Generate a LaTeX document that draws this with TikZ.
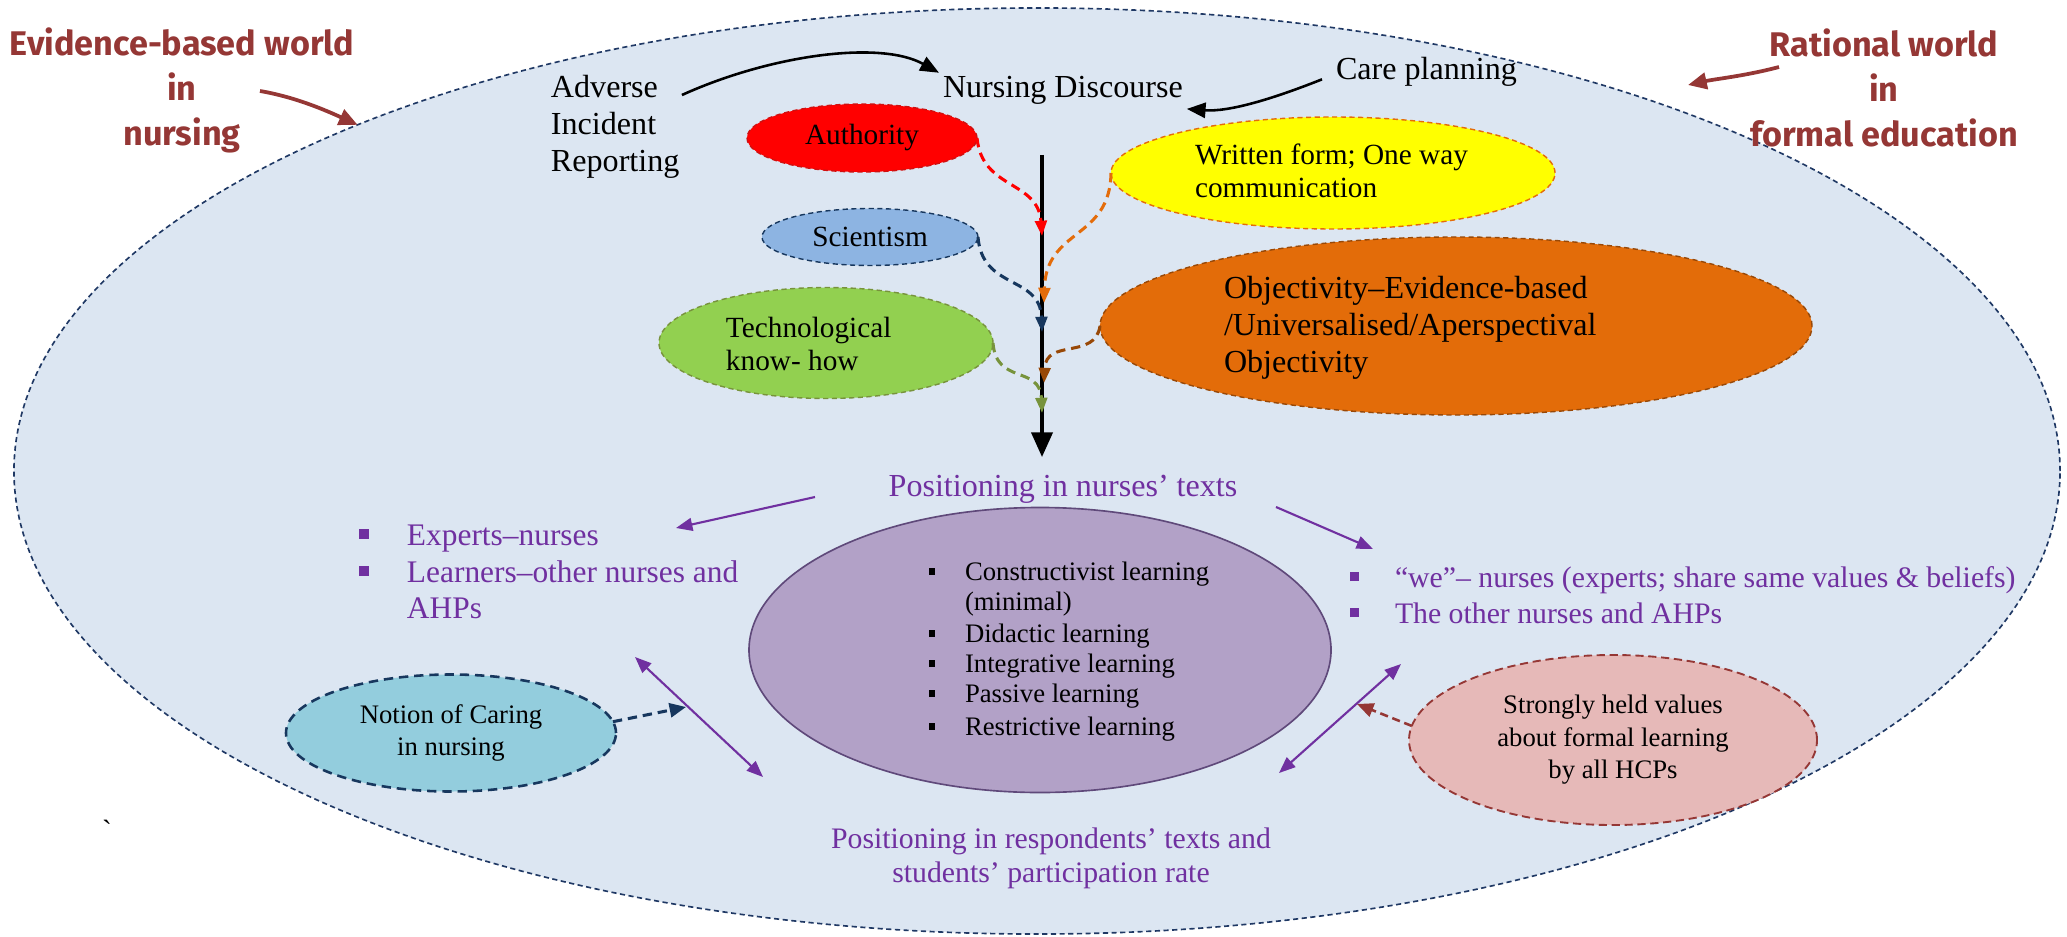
\documentclass[tikz,border=0pt]{standalone}
\usepackage{fontspec}
\setmainfont{Liberation Serif}
\newfontfamily\labelfont{Fira Sans}
\usetikzlibrary{shapes.geometric,arrows.meta}
\definecolor{cBg}{HTML}{DCE6F2}
\definecolor{cNavy}{HTML}{1F3864}
\definecolor{cMaroon}{HTML}{953735}
\definecolor{cViolet}{HTML}{7030A0}
\definecolor{cAuthF}{HTML}{FF0000}
\definecolor{cAuthL}{HTML}{D01010}
\definecolor{cRed}{HTML}{FF0000}
\definecolor{cSciF}{HTML}{8DB4E2}
\definecolor{cSciL}{HTML}{17375E}
\definecolor{cTechF}{HTML}{92D050}
\definecolor{cTechL}{HTML}{77933C}
\definecolor{cYelF}{HTML}{FFFF00}
\definecolor{cYelL}{HTML}{E46C0A}
\definecolor{cObjF}{HTML}{E36C09}
\definecolor{cObjL}{HTML}{984807}
\definecolor{cPurF}{HTML}{B2A1C7}
\definecolor{cPurL}{HTML}{5F497A}
\definecolor{cNotF}{HTML}{93CDDD}
\definecolor{cStrF}{HTML}{E6B9B8}
\newcommand\szL{\fontsize{13.7pt}{16pt}\selectfont}
\newcommand\szM{\fontsize{12.5pt}{15pt}\selectfont}
\newcommand\szS{\fontsize{11.4pt}{13.4pt}\selectfont}
\newcommand\szP{\fontsize{13.4pt}{16pt}\selectfont}
\newcommand\szQ{\fontsize{12.7pt}{15pt}\selectfont}
\newcommand\sqb[2]{\llap{\rule[0.2em]{#1}{#1}\hspace{#2}}}
\begin{document}
\begin{tikzpicture}[x=0.015cm,y=-0.015cm,
  ellbox/.style={ellipse, inner sep=0pt, outer sep=0pt},
  shortdash/.style={dash pattern=on 2.2pt off 1.5pt},
  txtw/.style={anchor=base west, inner sep=1.5pt},
  txtc/.style={anchor=base, inner sep=1.5pt},
  feedarrow/.style={line width=1.3pt, dash pattern=on 4pt off 2.5pt, -{Triangle[length=6.5pt,width=5pt]}},
  parr/.style={cViolet, line width=0.9pt, -{Triangle[length=7pt,width=5.5pt]}},
  dparr/.style={cViolet, line width=0.9pt, {Triangle[length=7pt,width=5.5pt]}-{Triangle[length=7pt,width=5.5pt]}},
  labarr/.style={cMaroon, line width=1.6pt, -{Triangle[length=8pt,width=7pt]}},
  blkarr/.style={black, line width=1.1pt, -{Triangle[length=8pt,width=6.5pt]}},
  worldlabel/.style={cMaroon, font=\labelfont\bfseries\fontsize{14.6pt}{19.2pt}\selectfont, align=center}
]
\useasboundingbox (0,0) rectangle (2067,937);
\fill[white] (0,0) rectangle (2067,937);

% outer world
\node[ellbox, fill=cBg, draw=cNavy, line width=0.7pt, shortdash,
      minimum width=30.69cm, minimum height=13.89cm] (world) at (1037,471) {};

% world labels
\node[worldlabel] (evid) at (182,90) {Evidence-based world\\in\\nursing};
\node[worldlabel] (ratio) at (1884,88) {Rational world\\in\\formal education};
\coordinate (evS) at (260,91);
\coordinate (raS) at (1779,67);
\coordinate (raE) at (1688,85);
\draw[labarr] (evS) .. controls (295,97) and (325,110) .. (world.153);
\draw[labarr] (raS) .. controls (1745,76) and (1715,79) .. (raE);

% top texts
\node[txtw, font=\szL] (adv1) at (547,98) {Adverse};
\node[txtw, font=\szL] (adv2) at (547,135) {Incident};
\node[txtw, font=\szL] (adv3) at (547,172) {Reporting};
\node[txtw, font=\szL] (nd) at (939,98) {Nursing Discourse};
\node[txtw, font=\szL] (care) at (1332,80) {Care planning};
\draw[blkarr] ([shift={(20,8)}]adv1.east) .. controls (770,55) and (880,40) .. (nd.north west);
\draw[blkarr] ([shift={(-10,7)}]care.west) .. controls (1270,100) and (1228,112) .. (nd.south east);

% feeding ellipses
\node[ellbox, fill=cAuthF, draw=cAuthL, line width=0.6pt, shortdash,
      minimum width=3.45cm, minimum height=1.02cm, font=\szM] (auth) at (862,138) {Authority};
\node[ellbox, fill=cSciF, draw=cSciL, line width=0.6pt, shortdash,
      minimum width=3.24cm, minimum height=0.855cm, font=\szM] (sci) at (870,237) {Scientism};
\node[ellbox, fill=cTechF, draw=cTechL, line width=0.6pt, shortdash,
      minimum width=5.01cm, minimum height=1.665cm] (tech) at (826,343) {};
\node[txtw, font=\szM] (tech1) at (722,337) {Technological};
\node[txtw, font=\szM] (tech2) at (722,370) {know- how};
\node[ellbox, fill=cYelF, draw=cYelL, line width=0.6pt, shortdash,
      minimum width=6.66cm, minimum height=1.68cm] (yel) at (1333,173) {};
\node[txtw, font=\szM] (yel1) at (1191,165) {Written form; One way};
\node[txtw, font=\szM] (yel2) at (1191,198) {communication};
\node[ellbox, fill=cObjF, draw=cObjL, line width=0.6pt, shortdash,
      minimum width=10.68cm, minimum height=2.67cm] (obj) at (1456,326) {};
\node[txtw, font=\szL] (obj1) at (1220,298) {Objectivity–Evidence-based};
\node[txtw, font=\szL] (obj2) at (1220,335) {/Universalised/Aperspectival};
\node[txtw, font=\szL] (obj3) at (1220,372) {Objectivity};

% central vertical arrow
\coordinate (vtop) at (1042,155);
\coordinate (vbot) at (1042,457);
\draw[line width=1.5pt, -{Triangle[length=10.5pt,width=9pt]}] (vtop) -- (vbot);
\coordinate (tA) at (1042,236);
\coordinate (tY) at (1044,303);
\coordinate (tS) at (1042,332);
\coordinate (tO) at (1044,383);
\coordinate (tT) at (1042,413);
\draw[feedarrow, cRed] (auth.east) .. controls (982,190) and (1038,180) .. (tA);
\draw[feedarrow, cYelL] (yel.west) .. controls (1110,240) and (1046,228) .. (tY);
\draw[feedarrow, cSciL] (sci.east) .. controls (982,290) and (1040,275) .. (tS);
\draw[feedarrow, cObjL] (obj.west) .. controls (1095,360) and (1046,338) .. (tO);
\draw[feedarrow, cTechL] (tech.east) .. controls (996,385) and (1040,365) .. (tT);

% positioning in nurses' texts
\node[txtc, font=\szL, cViolet] (pnt) at (1063,496) {Positioning in nurses’ texts};

% purple ellipse
\node[ellbox, fill=cPurF, draw=cPurL, line width=0.7pt,
      minimum width=8.73cm, minimum height=4.275cm] (learn) at (1040,650) {};
\node[txtw, font=\szS] (l1) at (961,580) {\sqb{0.24em}{1.12em}Constructivist learning};
\node[txtw, font=\szS] (l2) at (961,610) {(minimal)};
\node[txtw, font=\szS] (l3) at (961,642) {\sqb{0.24em}{1.12em}Didactic learning};
\node[txtw, font=\szS] (l4) at (961,672) {\sqb{0.24em}{1.12em}Integrative learning};
\node[txtw, font=\szS] (l5) at (961,702) {\sqb{0.24em}{1.12em}Passive learning};
\node[txtw, font=\szS] (l6) at (961,735) {\sqb{0.24em}{1.12em}Restrictive learning};

% left purple list
\node[txtw, font=\szP, cViolet] (exp1) at (403,545) {\sqb{0.3em}{1.22em}Experts–nurses};
\node[txtw, font=\szP, cViolet] (exp2) at (403,582) {\sqb{0.3em}{1.22em}Learners–other nurses and};
\node[txtw, font=\szP, cViolet] (exp3) at (403,618) {AHPs};
% right purple list
\node[txtw, font=\szQ, cViolet] (we1) at (1391,587) {\sqb{0.3em}{1.2em}“we”– nurses (experts; share same values \& beliefs)};
\node[txtw, font=\szQ, cViolet] (we2) at (1391,623) {\sqb{0.3em}{1.2em}The other nurses and AHPs};

% purple arrows
\coordinate (a1s) at (815,497);
\coordinate (a1e) at (676,528);
\coordinate (a2s) at (1276,507);
\coordinate (a2e) at (1373,549);
\coordinate (d1a) at (635,657);
\coordinate (d1b) at (763,777);
\coordinate (d2a) at (1401,664);
\coordinate (d2b) at (1279,773);
\draw[parr] (a1s) -- (a1e);
\draw[parr] (a2s) -- (a2e);
\draw[dparr] (d1a) -- (d1b);
\draw[dparr] (d2a) -- (d2b);

% notion of caring
\node[ellbox, fill=cNotF, draw=cSciL, line width=1.1pt, dash pattern=on 4pt off 2.5pt,
      minimum width=4.95cm, minimum height=1.755cm, font=\szS, align=center] (notion) at (451,733)
      {Notion of Caring\\[0.5pt]in nursing};
\coordinate (d1m) at (686,707);
\draw[cSciL, line width=1.3pt, dash pattern=on 4pt off 2.5pt, -{Triangle[length=7pt,width=6pt]}] (notion.4) -- (d1m);

% strongly held values
\node[ellbox, fill=cStrF, draw=cMaroon, line width=0.8pt, dash pattern=on 3.5pt off 2pt,
      minimum width=6.12cm, minimum height=2.55cm, font=\szS, align=center] (strong) at (1613,740)
      {Strongly held values\\[0.5pt]about formal learning\\[0.5pt]by all HCPs};
\coordinate (d2m) at (1357,704);
\draw[cMaroon, line width=1.1pt, dash pattern=on 3.5pt off 2pt, -{Triangle[length=7pt,width=6pt]}] (strong.176) -- (d2m);

% bottom text
\node[txtc, font=\szQ, cViolet] (resp1) at (1051,848) {Positioning in respondents’ texts and};
\node[txtc, font=\szQ, cViolet] (resp2) at (1051,882) {students’ participation rate};

% stray mark
\node[inner sep=0pt, font=\szM] (stray) at (107,830) {\textasciigrave};
\end{tikzpicture}
\end{document}
